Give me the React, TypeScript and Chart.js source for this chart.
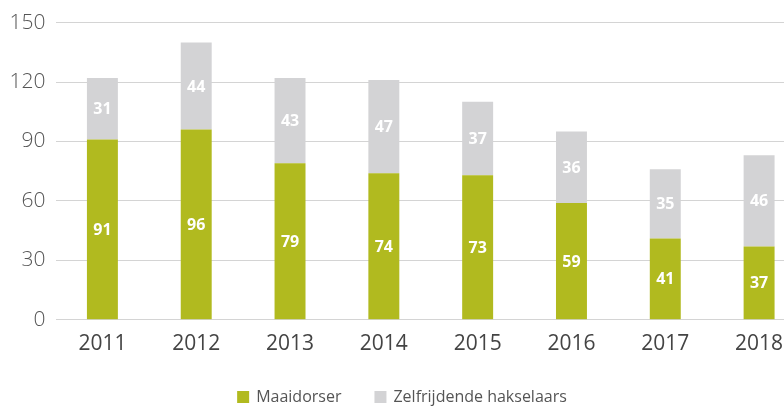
import React, { useEffect, useRef } from "react";
import { Chart, registerables } from "chart.js";

Chart.register(...registerables);

const categories = ["2011", "2012", "2013", "2014", "2015", "2016", "2017", "2018"];
const maaidorser = [91, 96, 79, 74, 73, 59, 41, 37];
const hakselaars = [31, 44, 43, 47, 37, 36, 35, 46];
const seriesNames = ["Maaidorser", "Zelfrijdende hakselaars"];
const yTicks = [0, 30, 60, 90, 120, 150];

const GREEN = "#b1ba1f";
const GRAY = "#d3d3d5";
const FONT = "'Open Sans', 'Noto Sans', sans-serif";

const labelPlugin = {
  id: "barLabels",
  afterDatasetsDraw(chart: any) {
    const ctx = chart.ctx;
    ctx.save();
    ctx.fillStyle = "#ffffff";
    ctx.font = `bold 16px ${FONT}`;
    ctx.textAlign = "center";
    ctx.textBaseline = "middle";
    chart.data.datasets.forEach((ds: any, di: number) => {
      const meta = chart.getDatasetMeta(di);
      meta.data.forEach((el: any, i: number) => {
        const p = el.getCenterPoint();
        ctx.fillText(String(ds.data[i]), p.x, p.y + 1);
      });
    });
    ctx.restore();
  },
};

const legendPlugin = {
  id: "customLegend",
  afterDraw(chart: any) {
    const ctx = chart.ctx;
    ctx.save();
    ctx.font = `16px ${FONT}`;
    ctx.textBaseline = "middle";
    ctx.textAlign = "left";
    const box = 12;
    const gap = 7;
    const itemGap = 33;
    const items = chart.data.datasets.map((ds: any) => ({
      text: ds.label,
      color: ds.backgroundColor,
      w: box + gap + ctx.measureText(ds.label).width,
    }));
    const total = items.reduce((s: number, it: any) => s + it.w, 0) + itemGap * (items.length - 1);
    let x = 402 - total / 2;
    const y = 397;
    items.forEach((it: any) => {
      ctx.fillStyle = it.color;
      ctx.fillRect(x, y - box / 2, box, box);
      ctx.fillStyle = "#555555";
      ctx.fillText(it.text, x + box + gap, y);
      x += it.w + itemGap;
    });
    ctx.restore();
  },
};

export default function App() {
  const ref = useRef<HTMLCanvasElement>(null);
  useEffect(() => {
    if (!ref.current) return;
    const chart = new Chart(ref.current, {
      type: "bar",
      data: {
        labels: categories,
        datasets: [
          { label: seriesNames[0], data: maaidorser, backgroundColor: GREEN },
          { label: seriesNames[1], data: hakselaars, backgroundColor: GRAY },
        ],
      },
      options: {
        responsive: false,
        animation: false,
        maintainAspectRatio: false,
        layout: { padding: { left: 0, top: 10, right: 0, bottom: 47 } },
        datasets: { bar: { categoryPercentage: 1, barPercentage: 0.33 } } as any,
        plugins: {
          tooltip: { enabled: false },
          legend: { display: false },
        },
        scales: {
          x: {
            stacked: true,
            grid: { display: false },
            border: { display: false },
            ticks: { color: "#444444", font: { family: FONT, size: 21, weight: 400 as any }, padding: 4 },
          },
          y: {
            stacked: true,
            min: 0,
            max: 150,
            afterBuildTicks: (axis: any) => {
              axis.ticks = yTicks.map((v) => ({ value: v }));
            },
            afterFit: (axis: any) => {
              axis.width = 55.5;
            },
            grid: { color: "#d4d4d4", drawTicks: false, lineWidth: 1 },
            border: { display: false },
            ticks: { color: "#555555", font: { family: FONT, size: 21, weight: 300 as any }, padding: 10 },
          },
        },
      },
      plugins: [labelPlugin, legendPlugin],
    });
    return () => chart.destroy();
  }, []);
  return (
    <div style={{ position: "fixed", left: 0, top: 0, width: 784, height: 408, overflow: "hidden", background: "#fff" }}>
      <canvas ref={ref} width={806} height={408} style={{ display: "block" }} />
    </div>
  );
}
